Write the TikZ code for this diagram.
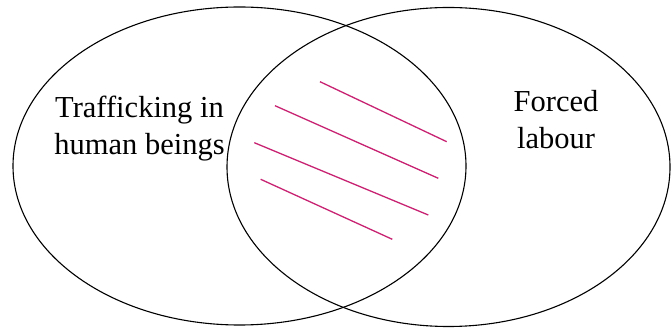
\documentclass[tikz,border=0pt]{standalone}
\usepackage{fontspec}
\setmainfont{Liberation Serif}
\definecolor{hatchpink}{RGB}{200,35,115}
\begin{document}
\begin{tikzpicture}[x=1pt,y=-1pt,
  setline/.style={draw=black,line width=1.1pt},
  hatchline/.style={draw=hatchpink,line width=1.3pt},
  textlabel/.style={inner sep=0pt,align=center,font=\fontsize{30.5}{37}\selectfont}]
\fill[white] (0,0) rectangle (671,328);
\useasboundingbox (0,0) rectangle (671,328);
\draw[setline] (239.5,166) ellipse [x radius=226.5, y radius=159];
\draw[setline] (448.5,167) ellipse [x radius=221.5, y radius=159.5];
\node[textlabel] (thb) at (139.5,128.5) {Trafficking in\\human beings};
\node[textlabel] (fl) at (556,120) {Forced\\labour};
\coordinate (a1) at (320,81.7);  \coordinate (b1) at (446.7,141.7);
\coordinate (a2) at (275,105.7); \coordinate (b2) at (438.3,178.3);
\coordinate (a3) at (254.3,142.7); \coordinate (b3) at (428.3,215);
\coordinate (a4) at (260.7,179.3); \coordinate (b4) at (392.3,239.3);
\draw[hatchline] (a1) -- (b1);
\draw[hatchline] (a2) -- (b2);
\draw[hatchline] (a3) -- (b3);
\draw[hatchline] (a4) -- (b4);
\end{tikzpicture}
\end{document}
